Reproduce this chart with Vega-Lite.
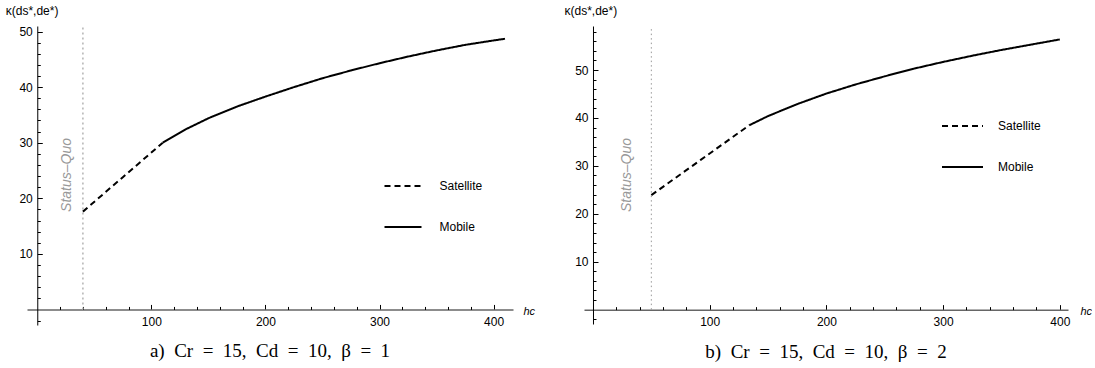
{
  "$schema": "https://vega.github.io/schema/vega-lite/v6.json",
  "padding": {"left": 5, "top": 4, "right": 0, "bottom": 0},
  "autosize": {"type": "pad"},
  "config": {"view": {"stroke": null}, "font": "Liberation Sans", "axis": {"labelOverlap": false}},
  "spacing": 28,
  "resolve": {"scale": {"strokeDash": "independent"}, "legend": {"strokeDash": "independent"}},
  "hconcat": [
    {
      "width": 486,
      "height": 299,
      "title": {"text": "a)\u2002Cr\u2002=\u200215,\u2002Cd\u2002=\u200210,\u2002β\u2002=\u20021", "orient": "bottom", "font": "Liberation Serif", "fontSize": 19, "fontWeight": "normal", "offset": 15, "anchor": "middle", "color": "black"},
      "resolve": {"axis": {"x": "independent", "y": "independent"}},
      "layer": [
        {
          "data": {"values": [
            {"series": "Satellite", "h": 40, "k": 17.6},
            {"series": "Satellite", "h": 75, "k": 23.8},
            {"series": "Satellite", "h": 110, "k": 30.0},
            {"series": "Mobile", "h": 110, "k": 30.0},
            {"series": "Mobile", "h": 130, "k": 32.4},
            {"series": "Mobile", "h": 150, "k": 34.4},
            {"series": "Mobile", "h": 175, "k": 36.5},
            {"series": "Mobile", "h": 200, "k": 38.3},
            {"series": "Mobile", "h": 225, "k": 40.0},
            {"series": "Mobile", "h": 250, "k": 41.6},
            {"series": "Mobile", "h": 275, "k": 43.0},
            {"series": "Mobile", "h": 300, "k": 44.3},
            {"series": "Mobile", "h": 325, "k": 45.5},
            {"series": "Mobile", "h": 350, "k": 46.6},
            {"series": "Mobile", "h": 375, "k": 47.6},
            {"series": "Mobile", "h": 400, "k": 48.4},
            {"series": "Mobile", "h": 410, "k": 48.7}
          ]},
          "mark": {"type": "line", "color": "black", "strokeWidth": 2},
          "encoding": {
            "x": {"field": "h", "type": "quantitative",
              "scale": {"domain": [-9, 417], "nice": false, "zero": false},
              "axis": {"orient": "bottom", "title": "hc", "titleFontStyle": "italic", "titleFontWeight": "normal", "titleFontSize": 11, "titleAngle": 0, "titleAlign": "left", "titleBaseline": "middle", "titleX": 496, "titleY": 2,
                "values": [100, 200, 300, 400], "tickSize": -5,
                "offset": -15.56, "domainColor": "#666", "domainWidth": 1.5, "tickColor": "black", "labelFontSize": 12, "labelColor": "black", "labelPadding": 12, "grid": false, "labelFlush": false, "labelOverlap": false}},
            "y": {"field": "k", "type": "quantitative",
              "scale": {"domain": [-2.8, 51], "nice": false, "zero": false},
              "axis": {"orient": "left", "title": "κ(ds*,de*)", "titleAngle": 0, "titleAlign": "left", "titleBaseline": "middle", "titleX": -32, "titleY": -16, "titleFontWeight": "normal", "titleFontSize": 12,
                "values": [10, 20, 30, 40, 50], "tickSize": -5,
                "offset": -10.27, "domainColor": "black", "tickColor": "black", "labelFontSize": 12, "labelColor": "black", "labelPadding": 10, "grid": false, "labelOverlap": false}},
            "strokeDash": {"field": "series", "type": "nominal",
              "scale": {"domain": ["Satellite", "Mobile"], "range": [[6, 4], [1, 0]]},
              "legend": {"orient": "none", "legendX": 356.5, "legendY": 140.5, "title": null, "symbolType": "stroke", "symbolSize": 1369, "symbolStrokeWidth": 2, "symbolStrokeColor": "black", "labelFontSize": 12, "labelColor": "black", "labelOffset": 17, "rowPadding": 15, "padding": 0}}
          }
        },
        {
          "data": {"values": [{"h": 40, "k": 0, "k2": 51}]},
          "mark": {"type": "rule", "color": "#b4b4b4", "strokeDash": [2, 3], "strokeWidth": 1.5},
          "encoding": {
            "x": {"field": "h", "type": "quantitative",
              "axis": {"orient": "bottom", "title": null, "labels": false, "domain": false, "grid": false, "values": [20,40,60,80,120,140,160,180,220,240,260,280,320,340,360,380], "tickSize": -3, "tickColor": "black", "offset": -15.56}},
            "y": {"field": "k", "type": "quantitative",
              "axis": {"orient": "left", "title": null, "labels": false, "domain": false, "grid": false, "values": [-2,2,4,6,8,12,14,16,18,22,24,26,28,32,34,36,38,42,44,46,48], "tickSize": -3, "tickColor": "black", "offset": -10.27}},
            "y2": {"field": "k2"}
          }
        },
        {
          "data": {"values": [{"h": 26, "k": 24.2, "label": "Status–Quo"}]},
          "mark": {"type": "text", "angle": 270, "fontSize": 14, "fontStyle": "italic", "color": "#999", "align": "center", "baseline": "middle"},
          "encoding": {"x": {"field": "h", "type": "quantitative", "axis": null}, "y": {"field": "k", "type": "quantitative", "axis": null}, "text": {"field": "label"}}
        }
      ]
    },
    {
      "width": 484,
      "height": 298,
      "title": {"text": "b)\u2002Cr\u2002=\u200215,\u2002Cd\u2002=\u200210,\u2002β\u2002=\u20022", "orient": "bottom", "font": "Liberation Serif", "fontSize": 19, "fontWeight": "normal", "offset": 15, "anchor": "middle", "color": "black"},
      "resolve": {"axis": {"x": "independent", "y": "independent"}},
      "layer": [
        {
          "data": {"values": [
            {"series": "Satellite", "h": 50, "k": 23.9},
            {"series": "Satellite", "h": 92, "k": 31.2},
            {"series": "Satellite", "h": 134, "k": 38.5},
            {"series": "Mobile", "h": 134, "k": 38.5},
            {"series": "Mobile", "h": 150, "k": 40.4},
            {"series": "Mobile", "h": 175, "k": 42.9},
            {"series": "Mobile", "h": 200, "k": 45.1},
            {"series": "Mobile", "h": 225, "k": 47.0},
            {"series": "Mobile", "h": 250, "k": 48.7},
            {"series": "Mobile", "h": 275, "k": 50.3},
            {"series": "Mobile", "h": 300, "k": 51.7},
            {"series": "Mobile", "h": 325, "k": 53.0},
            {"series": "Mobile", "h": 350, "k": 54.2},
            {"series": "Mobile", "h": 375, "k": 55.3},
            {"series": "Mobile", "h": 400, "k": 56.4}
          ]},
          "mark": {"type": "line", "color": "black", "strokeWidth": 2},
          "encoding": {
            "x": {"field": "h", "type": "quantitative",
              "scale": {"domain": [-7.7, 407], "nice": false, "zero": false},
              "axis": {"orient": "bottom", "title": "hc", "titleFontStyle": "italic", "titleFontWeight": "normal", "titleFontSize": 11, "titleAngle": 0, "titleAlign": "left", "titleBaseline": "middle", "titleX": 496, "titleY": 2,
                "values": [100, 200, 300, 400], "tickSize": -5,
                "offset": -14.37, "domainColor": "#666", "domainWidth": 1.5, "tickColor": "black", "labelFontSize": 12, "labelColor": "black", "labelPadding": 12, "grid": false, "labelFlush": false, "labelOverlap": false}},
            "y": {"field": "k", "type": "quantitative",
              "scale": {"domain": [-3, 59.2], "nice": false, "zero": false},
              "axis": {"orient": "left", "title": "κ(ds*,de*)", "titleAngle": 0, "titleAlign": "left", "titleBaseline": "middle", "titleX": -29, "titleY": -16, "titleFontWeight": "normal", "titleFontSize": 12,
                "values": [10, 20, 30, 40, 50], "tickSize": -5,
                "offset": -8.99, "domainColor": "black", "tickColor": "black", "labelFontSize": 12, "labelColor": "black", "labelPadding": 10, "grid": false, "labelOverlap": false}},
            "strokeDash": {"field": "series", "type": "nominal",
              "scale": {"domain": ["Satellite", "Mobile"], "range": [[6, 4], [1, 0]]},
              "legend": {"orient": "none", "legendX": 357, "legendY": 78.5, "title": null, "symbolType": "stroke", "symbolSize": 1681, "symbolStrokeWidth": 2, "symbolStrokeColor": "black", "labelFontSize": 12, "labelColor": "black", "labelOffset": 14, "rowPadding": 13, "padding": 0}}
          }
        },
        {
          "data": {"values": [{"h": 50, "k": 0, "k2": 59}]},
          "mark": {"type": "rule", "color": "#999", "strokeDash": [1.5, 3], "strokeWidth": 1},
          "encoding": {
            "x": {"field": "h", "type": "quantitative",
              "axis": {"orient": "bottom", "title": null, "labels": false, "domain": false, "grid": false, "values": [20,40,60,80,120,140,160,180,220,240,260,280,320,340,360,380], "tickSize": -3, "tickColor": "black", "offset": -14.37}},
            "y": {"field": "k", "type": "quantitative",
              "axis": {"orient": "left", "title": null, "labels": false, "domain": false, "grid": false, "values": [-2,2,4,6,8,12,14,16,18,22,24,26,28,32,34,36,38,42,44,46,48,52,54,56,58], "tickSize": -3, "tickColor": "black", "offset": -8.99}},
            "y2": {"field": "k2"}
          }
        },
        {
          "data": {"values": [{"h": 29, "k": 28.1, "label": "Status–Quo"}]},
          "mark": {"type": "text", "angle": 270, "fontSize": 14, "fontStyle": "italic", "color": "#999", "align": "center", "baseline": "middle"},
          "encoding": {"x": {"field": "h", "type": "quantitative", "axis": null}, "y": {"field": "k", "type": "quantitative", "axis": null}, "text": {"field": "label"}}
        }
      ]
    }
  ]
}
